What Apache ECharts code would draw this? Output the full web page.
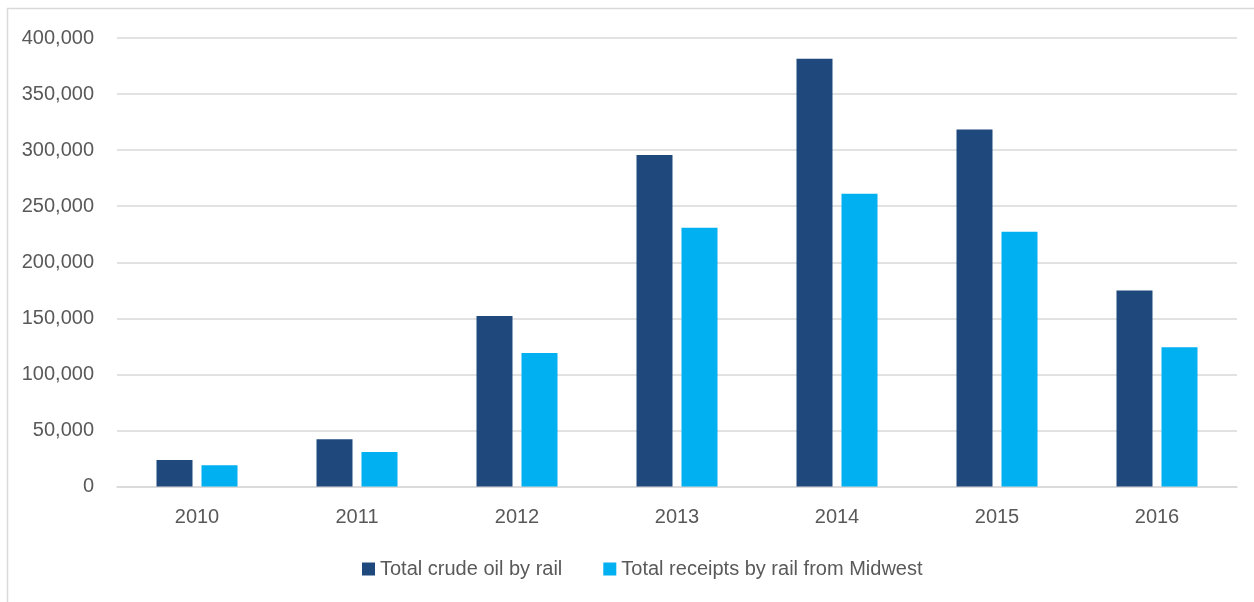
<!DOCTYPE html>
<html>
<head>
<meta charset="utf-8">
<style>
  html, body { margin: 0; padding: 0; background: #ffffff; }
  #chart { width: 1254px; height: 602px; }
</style>
<script src="https://cdn.jsdelivr.net/npm/echarts@6/dist/echarts.min.js"></script>
</head>
<body>
<div id="chart"></div>
<script>
// Crude oil moved by rail, annual totals
const years = ['2010', '2011', '2012', '2013', '2014', '2015', '2016'];
const totalCrudeByRail = [23600, 42100, 152000, 295700, 381600, 318400, 174900];
const receiptsFromMidwest = [18900, 30700, 119000, 230700, 261000, 227100, 124100];
const seriesNames = ['Total crude oil by rail', 'Total receipts by rail from Midwest'];

const FONT = "'Liberation Sans Narrow', 'Arial Narrow', 'Liberation Sans', Arial, sans-serif";
const TEXT = '#595959';
const FS = 20;

const chart = echarts.init(document.getElementById('chart'), null, { renderer: 'canvas' });

chart.setOption({
  backgroundColor: '#ffffff',
  animation: false,
  textStyle: { fontFamily: FONT },
  graphic: [{
    type: 'rect',
    shape: { x: 7.5, y: 8.5, width: 1400, height: 800 },
    style: { fill: 'none', stroke: '#d9d9d9', lineWidth: 1.5 },
    silent: true
  }],
  grid: { left: 117, right: 17, top: 38, bottom: 115.5, containLabel: false },
  legend: {
    left: 357,
    top: 554,
    itemWidth: 13,
    itemHeight: 13,
    itemGap: 41,
    icon: 'rect',
    textStyle: { fontFamily: FONT, fontSize: FS, color: TEXT },
    data: seriesNames
  },
  xAxis: {
    type: 'category',
    data: years,
    axisLine: { show: true, lineStyle: { color: '#d9d9d9', width: 1.5 } },
    axisTick: { show: false },
    axisLabel: { fontFamily: FONT, fontSize: FS, color: TEXT, margin: 21 }
  },
  yAxis: {
    type: 'value',
    min: 0,
    max: 400000,
    interval: 50000,
    axisLine: { show: false },
    axisTick: { show: false },
    splitLine: { lineStyle: { color: '#d9d9d9', width: 1.5 } },
    axisLabel: {
      fontFamily: FONT, fontSize: FS, color: TEXT, margin: 23,
      formatter: v => v.toLocaleString('en-US')
    }
  },
  series: [
    {
      name: seriesNames[0],
      type: 'bar',
      data: totalCrudeByRail,
      barWidth: 36,
      barGap: '25%',
      itemStyle: { color: '#1f497d' }
    },
    {
      name: seriesNames[1],
      type: 'bar',
      data: receiptsFromMidwest,
      barWidth: 36,
      barGap: '25%',
      itemStyle: { color: '#00b0f0' }
    }
  ]
});
</script>
</body>
</html>
